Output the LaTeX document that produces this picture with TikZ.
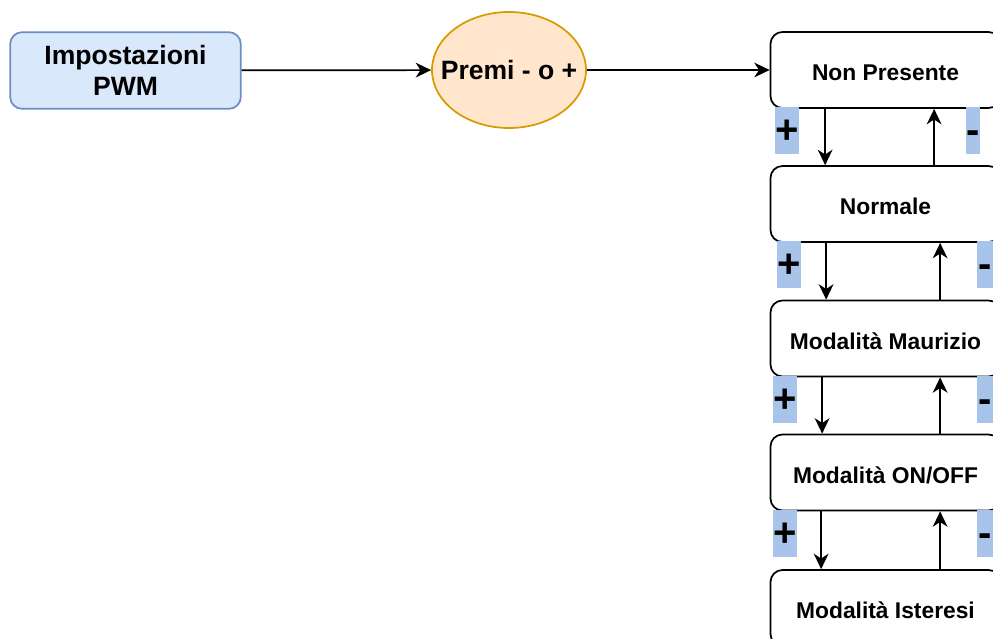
\documentclass[tikz,border=0pt]{standalone}
\usepackage{fontspec}
\setmainfont{Liberation Sans}
\usepackage{tikz}
\usetikzlibrary{shapes.geometric,arrows.meta,positioning,calc}
\definecolor{pwmfill}{HTML}{DAE8FC}
\definecolor{pwmedge}{HTML}{6C8EBF}
\definecolor{premifill}{HTML}{FFE6CC}
\definecolor{premiedge}{HTML}{D79B00}
\definecolor{keyblue}{HTML}{A9C4EB}

\begin{document}
\begin{tikzpicture}[
        x=0.75pt, y=-0.75pt,
        start/.style={rectangle, rounded corners=9pt, draw=pwmedge, fill=pwmfill, line width=1.3pt,
            minimum width=173pt, minimum height=57.5pt, align=center,
            font=\bfseries\fontsize{19.9}{23.3}\selectfont},
        choice/.style={ellipse, draw=premiedge, fill=premifill, line width=1.3pt, inner sep=0pt,
            minimum width=115.5pt, minimum height=87pt},
        state/.style={rectangle, rounded corners=9pt, draw, fill=white, line width=1.3pt,
            minimum width=172.5pt, minimum height=57pt, text height=16pt, text depth=0pt,
            font=\bfseries\fontsize{17.1}{20}\selectfont},
        key/.style={fill=keyblue, inner sep=0pt, minimum height=35.25pt, anchor=north west,
            text height=20pt, text depth=0pt, font=\bfseries\fontsize{30}{30}\selectfont},
        arr/.style={-{Stealth[length=11.5pt, width=11pt, inset=3.5pt]}, line width=1.3pt}
    ]
        \useasboundingbox (0,0) rectangle (993,639);
        \clip (0,0) rectangle (993,639);

        \node[start] (pwm) at (125.5,70.5) {Impostazioni\\PWM};
        \node[choice, label={[font=\bfseries\fontsize{19.9}{23.3}\selectfont]center:Premi - o +}] (premi) at (509,70) {};

        \node[state] (nonpres) at (885.5,70) {Non Presente};
        \node[state] (normale) at (885.5,204) {Normale};
        \node[state] (maurizio) at (885.5,338.5) {Modalità Maurizio};
        \node[state] (onoff) at (885.5,472.5) {Modalità ON/OFF};
        \node[state] (isteresi) at (885.5,608) {Modalità Isteresi};

        \draw[arr] (pwm) -- (premi);
        \draw[arr] (premi) -- (nonpres);

        % + goes down the list, - goes back up
        \foreach \a/\b/\p/\m/\mw/\d/\u in {nonpres/normale/5.5/196.5/14/55.5/164.5,
                normale/maurizio/7.5/207.5/16/56.5/170.5,
                maurizio/onoff/3.5/207.5/16/52.5/170.5,
                onoff/isteresi/3.5/207.5/16/51.5/170.5} {
            \draw[arr] ($(\a.south west)+(\d,0)$) -- ($(\b.north west)+(\d,0)$);
            \draw[arr] ($(\b.north west)+(\u,0)$) -- ($(\a.south west)+(\u,0)$);
            \node[key, minimum width=16.5pt] (plus\a) at ($(\a.south west)+(\p,-2)$) {+};
            \node[key, minimum width=\mw*0.75pt] (minus\a) at ($(\a.south west)+(\m,-2)$) {-};
        }
    \end{tikzpicture}
\end{document}
